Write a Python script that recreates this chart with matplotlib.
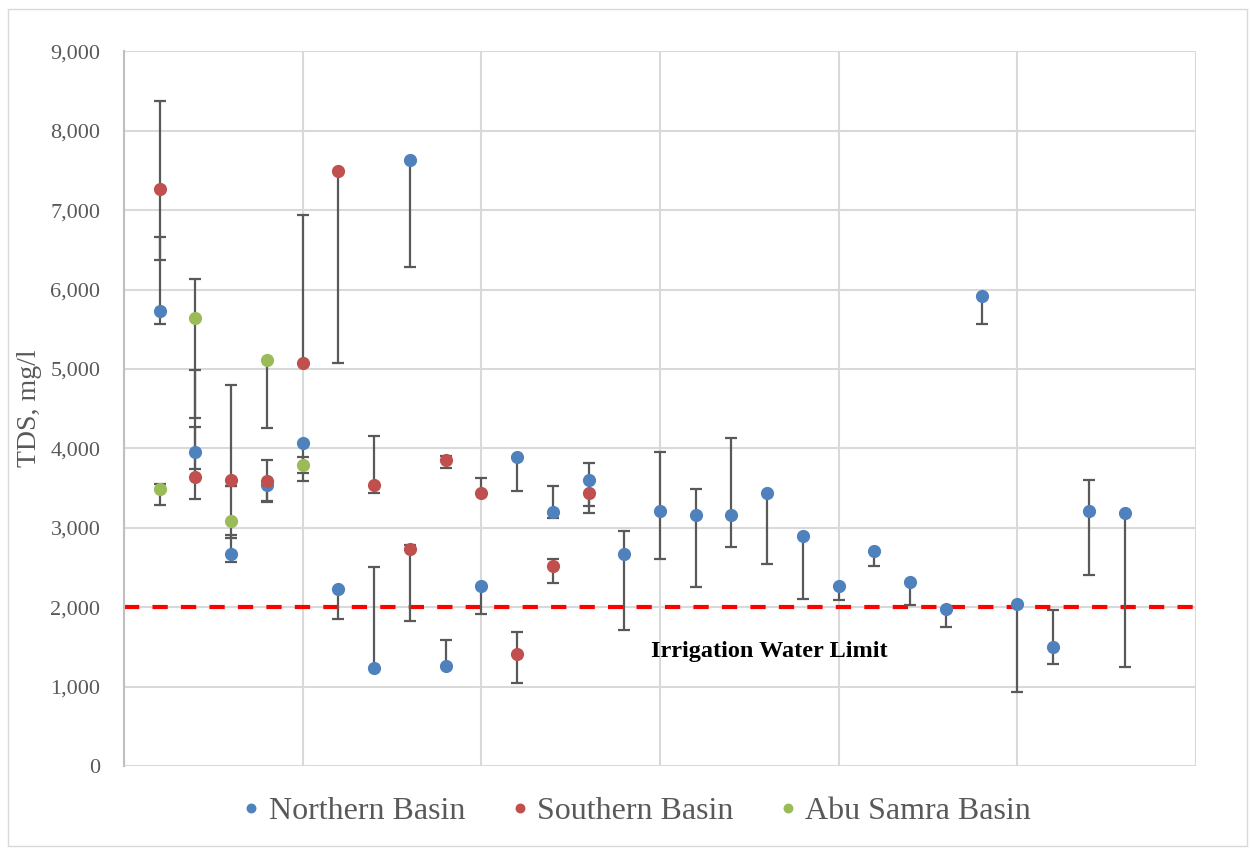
import matplotlib
matplotlib.use("Agg")
import matplotlib.pyplot as plt
import numpy as np
from matplotlib.patches import Rectangle
from matplotlib.ticker import FuncFormatter, MultipleLocator

plt.rcParams['font.family'] = ['Liberation Serif', 'DejaVu Serif']
plt.rcParams['lines.scale_dashes'] = False

# Well TDS (mg/l) with observed low/high range per well
north_x = list(range(1, 29))
north_tds = [5730, 3950, 2672, 3533, 4063, 2235, 1239, 7630, 1261, 2269, 3895, 3202, 3605, 2676,
             3214, 3164, 3155, 3437, 2895, 2265, 2706, 2316, 1979, 5916, 2038, 1500, 3214, 3185]
north_low = [5563, 3744, 2563, 3319, 3685, 1853, 1239, 6281, 1261, 1912, 3467, 3126, 3269, 1710,
             2601, 2256, 2752, 2542, 2101, 2093, 2521, 2034, 1748, 5563, 937, 1282, 2404, 1248]
north_high = [6660, 4988, 2912, 3533, 4063, 2235, 2500, 7630, 1592, 2269, 3895, 3521, 3815, 2962,
              3949, 3492, 4126, 3437, 2895, 2265, 2706, 2316, 1979, 5916, 2038, 1966, 3601, 3185]

south_x = list(range(1, 14))
south_tds = [7270, 3639, 3597, 3593, 5080, 7496, 3542, 2735, 3857, 3437, 1412, 2513, 3437]
south_low = [6374, 3366, 3530, 3337, 5080, 5080, 3433, 1824, 3756, 3437, 1046, 2307, 3185]
south_high = [8380, 4273, 4802, 3851, 6933, 7496, 4156, 2786, 3908, 3622, 1693, 2601, 3437]

abu_x = list(range(1, 6))
abu_tds = [3488, 5639, 3088, 5118, 3794]
abu_low = [3281, 4387, 2870, 4252, 3588]
abu_high = [3546, 6135, 3530, 5118, 3886]

irrigation_limit = 2000
limit_label = "Irrigation Water Limit"

series = [
    ("Northern Basin", north_x, north_tds, north_low, north_high, "#4f81bd"),
    ("Southern Basin", south_x, south_tds, south_low, south_high, "#c0504d"),
    ("Abu Samra Basin", abu_x, abu_tds, abu_low, abu_high, "#9bbb59"),
]

fig = plt.figure(figsize=(12.52, 8.5), dpi=100)
ax = fig.add_axes([0.099, 0.0988, 0.8563, 0.8408])

# outer chart border
fig.patches.append(Rectangle((0.006, 0.005), 0.99, 0.985, transform=fig.transFigure,
                             fill=False, edgecolor="#d9d9d9", linewidth=1.0))

ax.set_xlim(0, 30)
ax.set_ylim(0, 9000)
ax.xaxis.set_major_locator(MultipleLocator(5))
ax.yaxis.set_major_locator(MultipleLocator(1000))
ax.yaxis.set_major_formatter(FuncFormatter(lambda v, p: f"{int(v):,}"))
ax.tick_params(axis='x', length=0, labelbottom=False)
ax.tick_params(axis='y', length=0, labelsize=16, labelcolor="#595959", pad=17)
ax.grid(True, color="#d9d9d9", linewidth=1.5)
ax.set_axisbelow(True)
for side in ["top", "right", "bottom"]:
    ax.spines[side].set_visible(False)
ax.spines["left"].set_color("#bfbfbf")
ax.spines["left"].set_linewidth(1.5)

ax.set_ylabel("TDS, mg/l", fontsize=20, color="#595959", labelpad=6)

ax.axhline(irrigation_limit, color="#ff0000", linewidth=3, dashes=(11, 9.5), zorder=2)
ax.text(18.05, 1440, limit_label, fontsize=17.5, fontweight="bold", color="black",
        ha="center", va="center", zorder=5)

for name, xs, vals, lows, highs, color in series:
    v = np.array(vals, dtype=float)
    lo = np.array(lows, dtype=float)
    hi = np.array(highs, dtype=float)
    yerr = np.vstack([np.clip(v - lo, 0, None), np.clip(hi - v, 0, None)])
    ax.errorbar(xs, v, yerr=yerr, fmt="none", ecolor="#595959", elinewidth=1.6,
                capsize=4.4, capthick=1.6, zorder=3)

for name, xs, vals, lows, highs, color in series:
    ax.plot(xs, vals, linestyle="none", marker="o", markersize=9.5, color=color,
            markeredgewidth=0, zorder=4, label=name)

leg = fig.legend(loc="center", bbox_to_anchor=(0.509, 0.045), ncol=3, frameon=False,
                 fontsize=23, handlelength=0.5, handletextpad=0.3, columnspacing=1.45,
                 markerscale=0.75)
for t in leg.get_texts():
    t.set_color("#595959")

fig.savefig("out.png", dpi=100)
